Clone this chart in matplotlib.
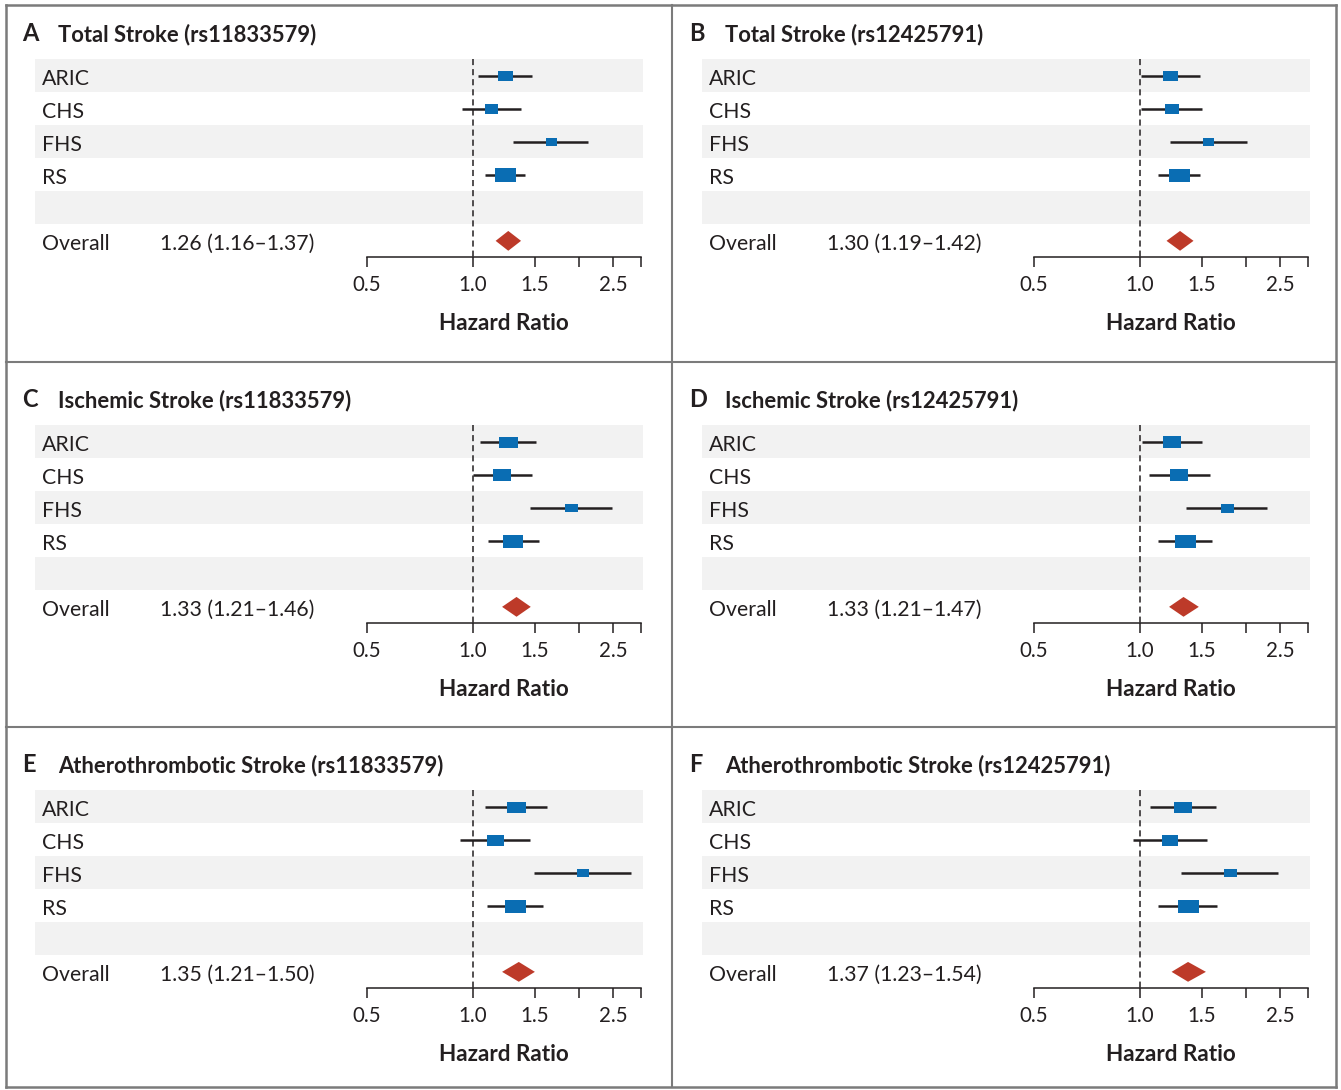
import numpy as np
import matplotlib.pyplot as plt
from matplotlib.path import Path
from matplotlib.patches import Polygon
from matplotlib.lines import Line2D
from matplotlib.ticker import FixedLocator, FixedFormatter, NullLocator

plt.rcParams['font.family'] = ['Lato', 'DejaVu Sans']

studies = ['ARIC', 'CHS', 'FHS', 'RS']
letters = ['A', 'B', 'C', 'D', 'E', 'F']
titles = ['Total Stroke (rs11833579)', 'Total Stroke (rs12425791)',
          'Ischemic Stroke (rs11833579)', 'Ischemic Stroke (rs12425791)',
          'Atherothrombotic Stroke (rs11833579)', 'Atherothrombotic Stroke (rs12425791)']

# hazard ratios per study (ARIC, CHS, FHS, RS) with 95% CI, one list per panel
hr_A = [1.235, 1.125, 1.67, 1.236]
lo_A = [1.036, 0.929, 1.30, 1.085]
hi_A = [1.473, 1.37, 2.13, 1.41]

hr_B = [1.22, 1.23, 1.564, 1.294]
lo_B = [1.01, 1.01, 1.217, 1.128]
hi_B = [1.477, 1.50, 2.01, 1.485]

hr_C = [1.258, 1.209, 1.897, 1.30]
lo_C = [1.05, 1.00, 1.454, 1.10]
hi_C = [1.51, 1.468, 2.48, 1.54]

hr_D = [1.231, 1.295, 1.763, 1.342]
lo_D = [1.015, 1.058, 1.348, 1.127]
hi_D = [1.497, 1.584, 2.30, 1.598]

hr_E = [1.326, 1.155, 2.05, 1.313]
lo_E = [1.08, 0.918, 1.49, 1.094]
hi_E = [1.625, 1.45, 2.81, 1.58]

hr_F = [1.324, 1.218, 1.80, 1.366]
lo_F = [1.067, 0.955, 1.305, 1.128]
hi_F = [1.648, 1.547, 2.47, 1.655]

overall_hr = [1.26, 1.30, 1.33, 1.33, 1.35, 1.37]
overall_lo = [1.16, 1.19, 1.21, 1.21, 1.21, 1.23]
overall_hi = [1.37, 1.42, 1.46, 1.47, 1.50, 1.54]

tick_vals = [0.5, 1.0, 1.5, 2.0, 2.5, 3.0]
tick_text = ['0.5', '1.0', '1.5', '', '2.5', '']

panels_hr = [hr_A, hr_B, hr_C, hr_D, hr_E, hr_F]
panels_lo = [lo_A, lo_B, lo_C, lo_D, lo_E, lo_F]
panels_hi = [hi_A, hi_B, hi_C, hi_D, hi_E, hi_F]

# box sizes in pixels (width, height) - just styling
box_w = [[15, 13, 11, 21], [15, 14, 11, 21], [19, 18, 13, 20],
         [18, 18, 13, 21], [19, 17, 12, 21], [18, 16, 13, 21]]
box_h = [[10, 10, 8, 14], [10, 10, 8, 13], [11, 12, 8, 13],
         [12, 12, 9, 13], [11, 11, 8, 13], [11, 11, 8, 13]]

W, H = 1341, 1090
DPI = 100
fig = plt.figure(figsize=(W / DPI, H / DPI), dpi=DPI)

BLUE = '#0a6db3'
RED = '#bd3a29'
BAND = '#f2f2f2'
INK = '#231f20'
FS = 15.3


def rect_marker(w, h):
    verts = [(-w / 2, -h / 2), (w / 2, -h / 2), (w / 2, h / 2), (-w / 2, h / 2), (-w / 2, -h / 2)]
    return Path(verts, [Path.MOVETO, Path.LINETO, Path.LINETO, Path.LINETO, Path.CLOSEPOLY])


col_off = [0, 667]
row_off = [0, 366, 731]
ax_w, ax_h = 608, 197.4

for k in range(6):
    c, r = k % 2, k // 2
    left = 35 + col_off[c]
    top = 59.3 + row_off[r]
    ax = fig.add_axes([left / W, 1 - (top + ax_h) / H, ax_w / W, ax_h / H])
    ax.set_xscale('log')
    ax.set_xlim(0.0568, 3.045)
    ax.set_ylim(5.48, -0.5)
    for s in ['top', 'right', 'left']:
        ax.spines[s].set_visible(False)
    ax.spines['bottom'].set_bounds(0.5, 3.0)
    ax.spines['bottom'].set_linewidth(1.1)
    ax.spines['bottom'].set_color(INK)
    ax.yaxis.set_visible(False)
    ax.xaxis.set_major_locator(FixedLocator(tick_vals))
    ax.xaxis.set_major_formatter(FixedFormatter(tick_text))
    ax.xaxis.set_minor_locator(NullLocator())
    ax.tick_params(axis='x', direction='out', length=7, width=1.1, color=INK,
                   labelsize=14.8, labelcolor=INK, pad=6.5)

    for i in [0, 2, 4]:
        ax.axhspan(i - 0.5, i + 0.5, color=BAND, lw=0, zorder=0)

    ax.plot([1, 1], [-0.5, 5.48], ls=(0, (4, 2.6)), color=INK, lw=1.1, zorder=1)

    tr = ax.get_yaxis_transform()
    for i, name in enumerate(studies):
        ax.text(0.0115, i + 0.28, name, transform=tr, fontsize=FS, color=INK,
                va='baseline', ha='left')
        ax.plot([panels_lo[k][i], panels_hi[k][i]], [i, i], color=INK, lw=1.8, zorder=2,
                solid_capstyle='butt')
        ax.plot(panels_hr[k][i], i, marker=rect_marker(box_w[k][i], box_h[k][i]),
                markersize=box_w[k][i] * 72 / DPI, color=BLUE, mew=0, ls='none', zorder=3)

    ax.text(0.0115, 5.28, 'Overall', transform=tr, fontsize=FS, color=INK,
            va='baseline', ha='left')
    ax.text(0.2056, 5.28, f'{overall_hr[k]:.2f} ({overall_lo[k]:.2f}\u2013{overall_hi[k]:.2f})',
            transform=tr, fontsize=FS, color=INK, va='baseline', ha='left')
    ax.add_patch(Polygon([(overall_lo[k], 5), (overall_hr[k], 4.7), (overall_hi[k], 5),
                          (overall_hr[k], 5.3)], closed=True, color=RED, lw=0, zorder=3))

    xtr = ax.get_xaxis_transform()
    ax.text(np.sqrt(0.5 * 3.0), -0.371, 'Hazard Ratio', transform=xtr, fontsize=16.2,
            fontweight='bold', color=INK, ha='center', va='baseline')
    ax.text(-13 / ax_w, 1.093, letters[k], transform=ax.transAxes, fontsize=17,
            fontweight='bold', color=INK, ha='left', va='baseline')
    ax.text(23.3 / ax_w, 1.093, titles[k], transform=ax.transAxes, fontsize=15.8,
            fontweight='bold', color=INK, ha='left', va='baseline')

# panel frame lines
GRAY = '#7b7b7b'


def fline(x0, y0, x1, y1, lw):
    fig.add_artist(Line2D([x0 / W, x1 / W], [1 - y0 / H, 1 - y1 / H], color=GRAY, lw=lw,
                          transform=fig.transFigure, solid_capstyle='projecting'))


fline(6, 5, 1336, 5, 1.8)
fline(6, 1087, 1336, 1087, 1.8)
fline(6, 5, 6, 1087, 1.8)
fline(1336, 5, 1336, 1087, 1.8)
fline(671.7, 5, 671.7, 1087, 1.5)
fline(6, 361.7, 1336, 361.7, 1.5)
fline(6, 726.5, 1336, 726.5, 1.5)

fig.savefig('out.png', dpi=DPI)
